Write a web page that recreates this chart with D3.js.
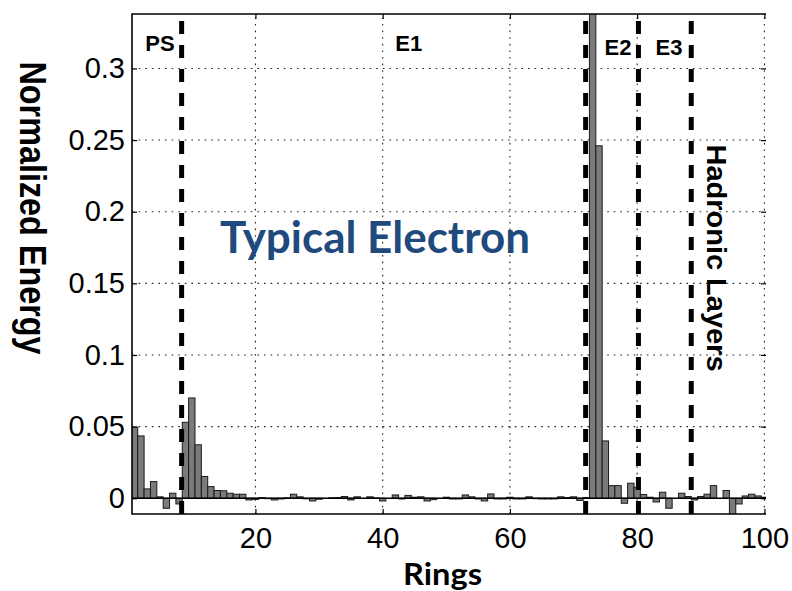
<!DOCTYPE html>
<html>
<head>
<meta charset="utf-8">
<script src="https://cdn.jsdelivr.net/npm/d3@7"></script>
<style>
  html, body { margin: 0; padding: 0; background: #fff; }
  svg { display: block; }
</style>
</head>
<body>
<svg id="chart" width="792" height="591"></svg>
<script>
// Ring index (1..100) and the normalized energy deposited in each ring
const ringNumbers = d3.range(1, 101);
const ringEnergy = [
  0.0496, 0.0435, 0.0065, 0.0116, 0.0010, -0.0070, 0.0035, -0.0040, 0.0530, 0.0700,
  0.0373, 0.0152, 0.0081, 0.0054, 0.0052, 0.0035, 0.0028, 0.0028, -0.0012, -0.0008,
  0.0004, -0.0003, -0.0012, -0.0005, 0.0003, 0.0028, 0.0010, -0.0004, -0.0019, -0.0007,
  0.0000, 0.0003, 0.0005, 0.0012, -0.0012, 0.0010, 0.0000, 0.0010, 0.0002, -0.0019,
  0.0000, 0.0023, -0.0005, 0.0020, 0.0007, 0.0010, -0.0019, -0.0010, 0.0000, 0.0007,
  -0.0005, -0.0005, 0.0023, 0.0010, -0.0005, -0.0019, 0.0030, -0.0005, -0.0005, 0.0007,
  -0.0005, -0.0005, 0.0010, -0.0003, -0.0005, -0.0005, -0.0005, 0.0010, 0.0005, 0.0010,
  -0.0015, 0.0005, 0.4200, 0.2460, 0.0400, 0.0088, 0.0088, -0.0035, 0.0105, 0.0077,
  0.0026, 0.0007, -0.0026, 0.0042, -0.0070, 0.0000, 0.0035, 0.0012, -0.0012, 0.0012,
  0.0028, 0.0088, 0.0000, 0.0054, -0.0120, -0.0040, 0.0016, 0.0028, 0.0016, 0.0007
];

// Axis ticks
const xTicks = [20, 40, 60, 80, 100];
const xTickLabels = ["20", "40", "60", "80", "100"];
const yTicks = [0, 0.05, 0.1, 0.15, 0.2, 0.25, 0.3];
const yTickLabels = ["0", "0.05", "0.1", "0.15", "0.2", "0.25", "0.3"];

// Calorimeter layer boundaries (in ring units) and layer names
const layerBoundaries = [8.4, 71.9, 80.2, 88.5];
const layerNames = ["PS", "E1", "E2", "E3"];
const layerLabelRing = [5.0, 44.1, 77.0, 85.0];

const svg = d3.select("#chart");
const plot = { left: 132, right: 766, top: 14, bottom: 514 };

const x = d3.scaleLinear().domain([0.6, 100.25]).range([plot.left, plot.right]);
const y = d3.scaleLinear().domain([-0.011, 0.338]).range([plot.bottom, plot.top]);

svg.append("defs").append("clipPath").attr("id", "plotClip")
  .append("rect")
  .attr("x", plot.left).attr("y", plot.top)
  .attr("width", plot.right - plot.left).attr("height", plot.bottom - plot.top);

// Dotted grid
const grid = svg.append("g").attr("stroke", "#222").attr("stroke-width", 1.1)
  .attr("stroke-dasharray", "1.6,5");
grid.selectAll("line.vx").data(xTicks).join("line")
  .attr("x1", d => x(d)).attr("x2", d => x(d))
  .attr("y1", plot.bottom).attr("y2", plot.top);
grid.selectAll("line.hy").data(yTicks.filter(d => d > 0)).join("line")
  .attr("x1", plot.left).attr("x2", plot.right)
  .attr("y1", d => y(d)).attr("y2", d => y(d));

// Bars
const bars = svg.append("g").attr("clip-path", "url(#plotClip)");
bars.selectAll("rect").data(ringNumbers).join("rect")
  .attr("x", r => x(r - 0.5))
  .attr("width", r => x(r + 0.5) - x(r - 0.5))
  .attr("y", (r, i) => y(Math.max(0, ringEnergy[i])))
  .attr("height", (r, i) => Math.abs(y(ringEnergy[i]) - y(0)))
  .attr("fill", "#7b7b7b")
  .attr("stroke", "#1a1a1a")
  .attr("stroke-width", 1);

// Bar baseline
svg.append("line")
  .attr("x1", plot.left).attr("x2", plot.right)
  .attr("y1", y(0)).attr("y2", y(0))
  .attr("stroke", "#000").attr("stroke-width", 1.4);

// Layer boundaries (thick dashed)
svg.append("g").selectAll("line").data(layerBoundaries).join("line")
  .attr("x1", d => x(d)).attr("x2", d => x(d))
  .attr("y1", plot.bottom).attr("y2", plot.top)
  .attr("stroke", "#000").attr("stroke-width", 5)
  .attr("stroke-dasharray", "13,11");

// Axes with inward ticks
const fontTick = "'Liberation Sans', Arial, sans-serif";
const xAxis = svg.append("g").attr("transform", `translate(0,${plot.bottom})`)
  .call(d3.axisBottom(x).tickValues(xTicks).tickFormat((d, i) => xTickLabels[i])
    .tickSizeInner(-5).tickSizeOuter(0).tickPadding(13));
const yAxis = svg.append("g").attr("transform", `translate(${plot.left},0)`)
  .call(d3.axisLeft(y).tickValues(yTicks).tickFormat((d, i) => yTickLabels[i])
    .tickSizeInner(-5).tickSizeOuter(0).tickPadding(7));
const xAxisTop = svg.append("g").attr("transform", `translate(0,${plot.top})`)
  .call(d3.axisTop(x).tickValues(xTicks).tickFormat("").tickSizeInner(-5).tickSizeOuter(0));
const yAxisRight = svg.append("g").attr("transform", `translate(${plot.right},0)`)
  .call(d3.axisRight(y).tickValues(yTicks).tickFormat("").tickSizeInner(-5).tickSizeOuter(0));

[xAxis, yAxis, xAxisTop, yAxisRight].forEach(g => {
  g.select(".domain").remove();
  g.selectAll(".tick line").attr("stroke", "#000").attr("stroke-width", 1.2);
  g.selectAll("text").attr("font-family", fontTick).attr("font-size", 29).attr("fill", "#000");
});

// Frame (left, top, bottom)
svg.append("path")
  .attr("d", `M${plot.right},${plot.top}H${plot.left}V${plot.bottom}H${plot.right}`)
  .attr("fill", "none").attr("stroke", "#000").attr("stroke-width", 1.6);

// Layer names
svg.append("g").selectAll("text").data(layerNames).join("text")
  .attr("x", (d, i) => x(layerLabelRing[i]))
  .attr("y", (d, i) => i < 2 ? 51 : 55)
  .attr("text-anchor", "middle")
  .attr("font-family", fontTick).attr("font-weight", "bold").attr("font-size", 22)
  .attr("fill", "#000")
  .text(d => d);

// Hadronic layers label (vertical)
svg.append("text")
  .attr("transform", "translate(707,258) rotate(90)")
  .attr("text-anchor", "middle")
  .attr("font-family", fontTick).attr("font-weight", "bold").attr("font-size", 27)
  .attr("textLength", 227).attr("lengthAdjust", "spacingAndGlyphs")
  .text("Hadronic Layers");

// Axis titles
svg.append("text")
  .attr("transform", "translate(20,208) rotate(90)")
  .attr("text-anchor", "middle")
  .attr("font-family", fontTick).attr("font-weight", "bold").attr("font-size", 36)
  .attr("textLength", 293).attr("lengthAdjust", "spacingAndGlyphs")
  .text("Normalized Energy");

svg.append("text")
  .attr("x", 403).attr("y", 585)
  .attr("font-family", "Lato, 'Open Sans', sans-serif").attr("font-weight", "bold")
  .attr("font-size", 31)
  .attr("textLength", 79).attr("lengthAdjust", "spacingAndGlyphs")
  .text("Rings");

// Annotation
svg.append("text")
  .attr("x", 220).attr("y", 253)
  .attr("font-family", "Lato, 'Open Sans', sans-serif").attr("font-weight", "bold")
  .attr("font-size", 44).attr("fill", "#1f4a7e")
  .attr("textLength", 310).attr("lengthAdjust", "spacingAndGlyphs")
  .text("Typical Electron");
</script>
</body>
</html>
